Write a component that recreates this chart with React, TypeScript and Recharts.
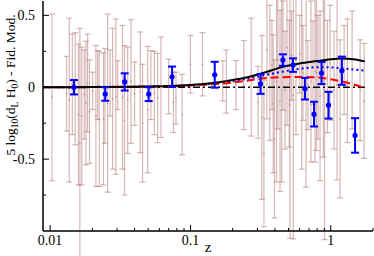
import { ComposedChart, Scatter, Line, XAxis, YAxis, ErrorBar } from 'recharts';

// individual supernovae (z, residual, 1-sigma)
const snZ = [0.0103, 0.0131, 0.0137, 0.0144, 0.0151, 0.0159, 0.0163, 0.0168, 0.0175, 0.018, 0.0185, 0.0191, 0.0201, 0.0212, 0.0218, 0.0224, 0.024, 0.0246, 0.0257, 0.0268, 0.0279, 0.0294, 0.0303, 0.0328, 0.0339, 0.0357, 0.0377, 0.04, 0.0439, 0.0456, 0.0496, 0.0523, 0.0553, 0.0584, 0.0617, 0.07, 0.0757, 0.0789, 0.0871, 0.1, 0.122, 0.17, 0.18, 0.211, 0.24, 0.271, 0.303, 0.323, 0.334, 0.351, 0.368, 0.381, 0.389, 0.397, 0.411, 0.42, 0.435, 0.447, 0.457, 0.472, 0.488, 0.506, 0.512, 0.525, 0.541, 0.565, 0.601, 0.621, 0.634, 0.667, 0.688, 0.723, 0.748, 0.773, 0.792, 0.812, 0.839, 0.885, 0.903, 0.946, 0.989, 1.056, 1.109, 1.165, 1.245, 1.314, 1.42, 1.619, 1.729];
const snMu = [-0.07, -0.045, -0.09, 0.02, -0.01, -0.19, -0.39, -0.2, -0.05, -0.11, 0.03, -0.17, -0.025, -0.2, 0.015, -0.22, -0.22, -0.06, -0.11, 0.03, -0.08, -0.065, 0.015, -0.07, -0.23, -0.09, 0.04, -0.045, -0.035, -0.25, -0.155, 0.015, -0.04, -0.075, 0.0, 0.005, -0.105, -0.075, -0.19, 0.16, 0.16, 0.045, 0.04, 0.015, 0.015, 0.07, -0.105, -0.21, -0.46, 0.26, 0.1, 0.155, -0.115, -0.36, 0.04, 0.19, -0.095, 0.11, 0.22, -0.02, 0.275, 0.025, -0.12, 0.22, -0.055, 0.19, 0.23, 0.12, 0.1, 0.025, 0.015, 0.04, 0.17, 0.11, 0.1, 0.07, -0.06, 0.095, -0.02, 0.075, 0.17, -0.02, 0.015, -0.22, 0.12, 0.045, 0.12, -0.02, -0.095];
const snErr = [0.58, 0.26, 0.57, 0.35, 0.39, 0.49, 0.8, 0.48, 0.31, 0.43, 0.34, 0.36, 0.13, 0.49, 0.24, 0.47, 0.46, 0.33, 0.62, 0.23, 0.49, 0.54, 0.17, 0.5, 0.52, 0.37, 0.43, 0.22, 0.42, 0.41, 0.44, 0.24, 0.29, 0.31, 0.35, 0.19, 0.21, 0.18, 0.28, 0.2, 0.22, 0.14, 0.22, 0.17, 0.31, 0.41, 0.25, 0.57, 0.51, 0.48, 0.47, 0.31, 0.48, 0.55, 0.7, 0.48, 0.63, 0.77, 0.38, 0.41, 0.54, 0.44, 0.93, 0.31, 1.0, 0.52, 0.27, 0.69, 0.33, 0.72, 0.31, 0.56, 0.29, 0.63, 0.54, 0.43, 0.59, 0.58, 1.04, 0.39, 0.4, 0.41, 0.66, 0.55, 0.31, 0.43, 0.41, 0.35, 0.4];

// binned points
const binZ = [0.0148, 0.0247, 0.034, 0.0504, 0.074, 0.149, 0.316, 0.456, 0.538, 0.655, 0.76, 0.86, 0.964, 1.2, 1.49];
const binMu = [0.0, -0.047, 0.037, -0.048, 0.073, 0.087, 0.023, 0.189, 0.154, -0.01, -0.187, 0.099, -0.125, 0.115, -0.335];
const binErr = [0.05, 0.047, 0.06, 0.048, 0.071, 0.09, 0.069, 0.04, 0.047, 0.075, 0.086, 0.077, 0.093, 0.098, 0.12];

// model curves
const curveZ = [0.0089, 0.02, 0.04, 0.07, 0.1, 0.15, 0.2, 0.25, 0.33, 0.45, 0.6, 0.8, 1.0, 1.2, 1.45, 1.75];
const solidCurve = [0, 0.001, 0.004, 0.009, 0.016, 0.032, 0.05, 0.068, 0.1, 0.14, 0.165, 0.182, 0.195, 0.2, 0.195, 0.18];
const dashedCurve = [0, 0.001, 0.003, 0.007, 0.012, 0.022, 0.033, 0.045, 0.062, 0.07, 0.072, 0.068, 0.055, 0.04, 0.02, -0.007];
const dottedCurve = [0, 0.001, 0.003, 0.008, 0.014, 0.027, 0.042, 0.057, 0.082, 0.108, 0.128, 0.14, 0.138, 0.132, 0.124, 0.115];
const fidZ = [0.0089, 1.75];
const fidMu = [0, 0];

const X_MAJOR = [0.01, 0.1, 1];
const X_MINOR = [0.02, 0.03, 0.04, 0.05, 0.06, 0.07, 0.08, 0.09, 0.2, 0.3, 0.4, 0.5, 0.6, 0.7, 0.8, 0.9, 2];
const Y_MAJOR = [-0.5, 0, 0.5];
const Y_MINOR = [-0.75, -0.25, 0.25];

const FONT = '"Liberation Serif", "Times New Roman", serif';
const SN_COLOR = '#b07070';

const snData = snZ.map((z, i) => ({ z, v: snMu[i], e: snErr[i] }));
const binData = binZ.map((z, i) => ({ z, v: binMu[i], e: binErr[i] }));
const toLine = (zs: number[], vs: number[]) => zs.map((z, i) => ({ z, v: vs[i] }));

const BottomTick = (p: any) => {
  const v = p.payload.value;
  const major = X_MAJOR.includes(v);
  return (
    <g>
      <line x1={p.x} x2={p.x} y1={p.y} y2={p.y - (major ? 6 : 3)} stroke="#000" />
      {major && (
        <text x={p.x} y={p.y + 14} textAnchor="middle" fontSize={14} fontFamily={FONT} fill="#000">
          {String(v)}
        </text>
      )}
    </g>
  );
};

const TopTick = (p: any) => {
  const major = X_MAJOR.includes(p.payload.value);
  return <line x1={p.x} x2={p.x} y1={p.y} y2={p.y + (major ? 6 : 3)} stroke="#000" />;
};

const LeftTick = (p: any) => {
  const v = p.payload.value;
  const major = Y_MAJOR.includes(v);
  return (
    <g>
      <line x1={p.x} x2={p.x + (major ? 6 : 3)} y1={p.y} y2={p.y} stroke="#000" />
      {major && (
        <text x={p.x - 8} y={p.y + 5} textAnchor="end" fontSize={14} fontFamily={FONT} fill="#000">
          {String(v)}
        </text>
      )}
    </g>
  );
};

const RightTick = (p: any) => {
  const major = Y_MAJOR.includes(p.payload.value);
  return <line x1={p.x} x2={p.x - (major ? 6 : 3)} y1={p.y} y2={p.y} stroke="#000" />;
};

const YTitle = () => (
  <text transform="translate(15,85) rotate(-90)" textAnchor="middle" fontSize={13.5} fontFamily={FONT} fill="#000">
    5 log
    <tspan fontSize={9.5} dy={3}>10</tspan>
    <tspan dy={-3}>(d</tspan>
    <tspan fontSize={9.5} dy={3}>L</tspan>
    <tspan dy={-3}> H</tspan>
    <tspan fontSize={9.5} dy={3}>0</tspan>
    <tspan dy={-3}>) - Fid. Mod.</tspan>
  </text>
);

const XTitle = () => (
  <text x={208} y={252} textAnchor="middle" fontSize={15} fontFamily={FONT} fill="#000">
    z
  </text>
);

const SnDot = (p: any) => <circle cx={p.cx} cy={p.cy} r={0.9} fill={SN_COLOR} fillOpacity={0.55} />;
const BinDot = (p: any) => <circle cx={p.cx} cy={p.cy} r={2.6} fill="#0000ff" />;

export default function App() {
  const xTicks = [...X_MAJOR, ...X_MINOR].sort((a, b) => a - b);
  const yTicks = [...Y_MAJOR, ...Y_MINOR].sort((a, b) => a - b);
  return (
    <div style={{ position: 'absolute', left: 0, top: 0, background: '#fff' }}>
      <ComposedChart width={374} height={256} margin={{ top: 1, right: 1, bottom: 0, left: 0 }}>
        <XAxis
          dataKey="z"
          type="number"
          scale="log"
          domain={[0.0089, 2]}
          allowDataOverflow
          ticks={xTicks}
          interval={0}
          tick={BottomTick}
          tickLine={false}
          tickSize={0}
          tickMargin={0}
          height={25}
          axisLine={{ stroke: '#000', strokeWidth: 1.5 }}
          label={{ content: () => <XTitle /> }}
        />
        <XAxis
          xAxisId="top"
          orientation="top"
          type="number"
          scale="log"
          domain={[0.0089, 2]}
          allowDataOverflow
          ticks={xTicks}
          interval={0}
          tick={TopTick}
          tickLine={false}
          tickSize={0}
          tickMargin={0}
          height={0}
          axisLine={{ stroke: '#444', strokeWidth: 1 }}
        />
        <YAxis
          type="number"
          domain={[-1, 0.6]}
          allowDataOverflow
          ticks={yTicks}
          interval={0}
          tick={LeftTick}
          tickLine={false}
          tickSize={0}
          tickMargin={0}
          width={43}
          axisLine={{ stroke: '#000', strokeWidth: 1.5 }}
          label={{ content: () => <YTitle /> }}
        />
        <YAxis
          yAxisId="right"
          orientation="right"
          type="number"
          domain={[-1, 0.6]}
          allowDataOverflow
          ticks={yTicks}
          interval={0}
          tick={RightTick}
          tickLine={false}
          tickSize={0}
          tickMargin={0}
          width={0}
          axisLine={{ stroke: '#000', strokeWidth: 1.5 }}
        />
        <Scatter data={snData} dataKey="v" shape={SnDot} isAnimationActive={false}>
          <ErrorBar dataKey="e" direction="y" width={3} stroke={SN_COLOR} strokeOpacity={0.5} strokeWidth={1.2} isAnimationActive={false} />
        </Scatter>
        <Line data={toLine(fidZ, fidMu)} dataKey="v" stroke="#000" strokeWidth={1.5} strokeDasharray="7 3 2 3" dot={false} isAnimationActive={false} />
        <Line data={toLine(curveZ, dottedCurve)} dataKey="v" type="monotone" stroke="#0000ff" strokeWidth={2} strokeDasharray="2 3" dot={false} isAnimationActive={false} />
        <Line data={toLine(curveZ, dashedCurve)} dataKey="v" type="monotone" stroke="#ff0000" strokeWidth={2} strokeDasharray="8 4" dot={false} isAnimationActive={false} />
        <Line data={toLine(curveZ, solidCurve)} dataKey="v" type="monotone" stroke="#000" strokeWidth={2} dot={false} isAnimationActive={false} />
        <Scatter data={binData} dataKey="v" shape={BinDot} isAnimationActive={false}>
          <ErrorBar dataKey="e" direction="y" width={4} stroke="#0000ff" strokeWidth={2} isAnimationActive={false} />
        </Scatter>
      </ComposedChart>
    </div>
  );
}
